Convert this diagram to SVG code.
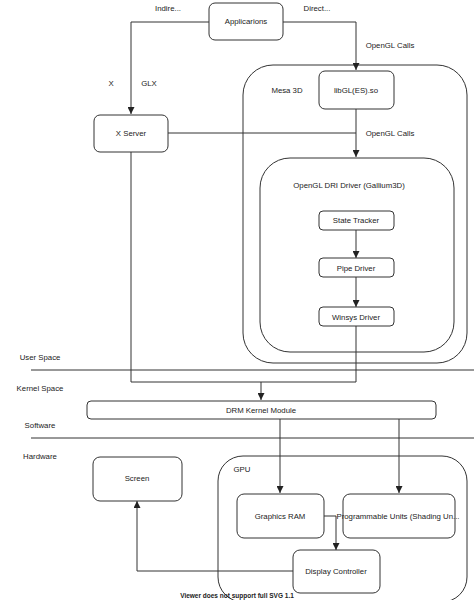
<svg xmlns="http://www.w3.org/2000/svg" width="474" height="600" viewBox="0 0 474 600">
<style>
.b{fill:#fff;stroke:#333;stroke-width:1}
.c{fill:none;stroke:#333;stroke-width:1}
.t{font-family:"Liberation Sans",Arial,sans-serif;font-size:7.8px;fill:#222;text-anchor:middle;dominant-baseline:central}
.l{font-family:"Liberation Sans",Arial,sans-serif;font-size:7.8px;fill:#222;text-anchor:middle;dominant-baseline:central}
</style>
<defs>
<marker id="a" viewBox="0 0 10 10" refX="10" refY="5" markerWidth="7" markerHeight="7" markerUnits="userSpaceOnUse" orient="auto"><path d="M0,0 L10,5 L0,10 z" fill="#222"/></marker>
</defs>
<rect width="474" height="600" fill="#fff"/>
<g id="containers">
<g id="mesa3d"><rect class="b" x="243" y="65" width="224" height="298" rx="30"/><text class="t" x="287" y="90">Mesa 3D</text></g>
<g id="dri"><rect class="b" x="260" y="158" width="194" height="194" rx="30"/><text class="t" x="349" y="185">OpenGL DRI Driver (Gallium3D)</text></g>
<g id="gpu"><rect class="b" x="218" y="456" width="249" height="146" rx="25"/><text class="t" x="242" y="469">GPU</text></g>
</g>
<g id="separators">
<line class="c" x1="31" y1="370" x2="474" y2="370"/>
<line class="c" x1="31" y1="438" x2="474" y2="438"/>
<text class="l" x="40" y="357">User Space</text>
<text class="l" x="40" y="388">Kernel Space</text>
<text class="l" x="40" y="425">Software</text>
<text class="l" x="40" y="456">Hardware</text>
</g>
<g id="connectors">
<path class="c" d="M209,22 H131 V114" marker-end="url(#a)"/>
<path class="c" d="M283,22 H356 V70" marker-end="url(#a)"/>
<path class="c" d="M356,109 V157" marker-end="url(#a)"/>
<path class="c" d="M168,133 H356"/>
<path class="c" d="M356,230 V258" marker-end="url(#a)"/>
<path class="c" d="M356,277 V307" marker-end="url(#a)"/>
<path class="c" d="M131,152 V382 H261 V400" marker-end="url(#a)"/>
<path class="c" d="M356,326 V382 H261"/>
<path class="c" d="M280,419 V493" marker-end="url(#a)"/>
<path class="c" d="M399,419 V493" marker-end="url(#a)"/>
<path class="c" d="M324,516 H336 V550" marker-end="url(#a)"/>
<path class="c" d="M293,571 H137 V501" marker-end="url(#a)"/>
<text class="t" x="168" y="8">Indire...</text>
<text class="t" x="317" y="8">Direct...</text>
<text class="t" x="111" y="83">X</text>
<text class="t" x="149" y="83">GLX</text>
<text class="t" x="390" y="45">OpenGL Calls</text>
<text class="t" x="390" y="133">OpenGL Calls</text>
</g>
<g id="applications"><rect class="b" x="209" y="3" width="74" height="37" rx="6"/><text class="t" x="246" y="21">Applicarions</text></g>
<g id="xserver"><rect class="b" x="94" y="115" width="74" height="37" rx="6"/><text class="t" x="131" y="133">X Server</text></g>
<g id="libgl"><rect class="b" x="319" y="71" width="75" height="38" rx="6"/><text class="t" x="356" y="90">libGL(ES).so</text></g>
<g id="statetracker"><rect class="b" x="319" y="211" width="75" height="19" rx="4"/><text class="t" x="356" y="220">State Tracker</text></g>
<g id="pipedriver"><rect class="b" x="319" y="258" width="75" height="19" rx="4"/><text class="t" x="356" y="268">Pipe Driver</text></g>
<g id="winsys"><rect class="b" x="319" y="307" width="75" height="19" rx="4"/><text class="t" x="356" y="317">Winsys Driver</text></g>
<g id="drm"><rect class="b" x="87" y="401" width="349" height="18" rx="4"/><text class="t" x="261" y="410">DRM Kernel Module</text></g>
<g id="screen"><rect class="b" x="93" y="457" width="89" height="44" rx="7"/><text class="t" x="137" y="478">Screen</text></g>
<g id="graphicsram"><rect class="b" x="237" y="494" width="87" height="44" rx="7"/><text class="t" x="280" y="516">Graphics RAM</text></g>
<g id="progunits"><rect class="b" x="343" y="494" width="112" height="44" rx="7"/><text class="t" x="398" y="516">Programmable Units (Shading Un...</text></g>
<g id="display"><rect class="b" x="293" y="550" width="87" height="43" rx="7"/><text class="t" x="336" y="571">Display Controller</text></g>
<text x="237" y="595" style="font-family:'Liberation Sans',Arial,sans-serif;font-size:6.5px;font-weight:bold;fill:#222;text-anchor:middle;dominant-baseline:central">Viewer does not support full SVG 1.1</text>
</svg>
